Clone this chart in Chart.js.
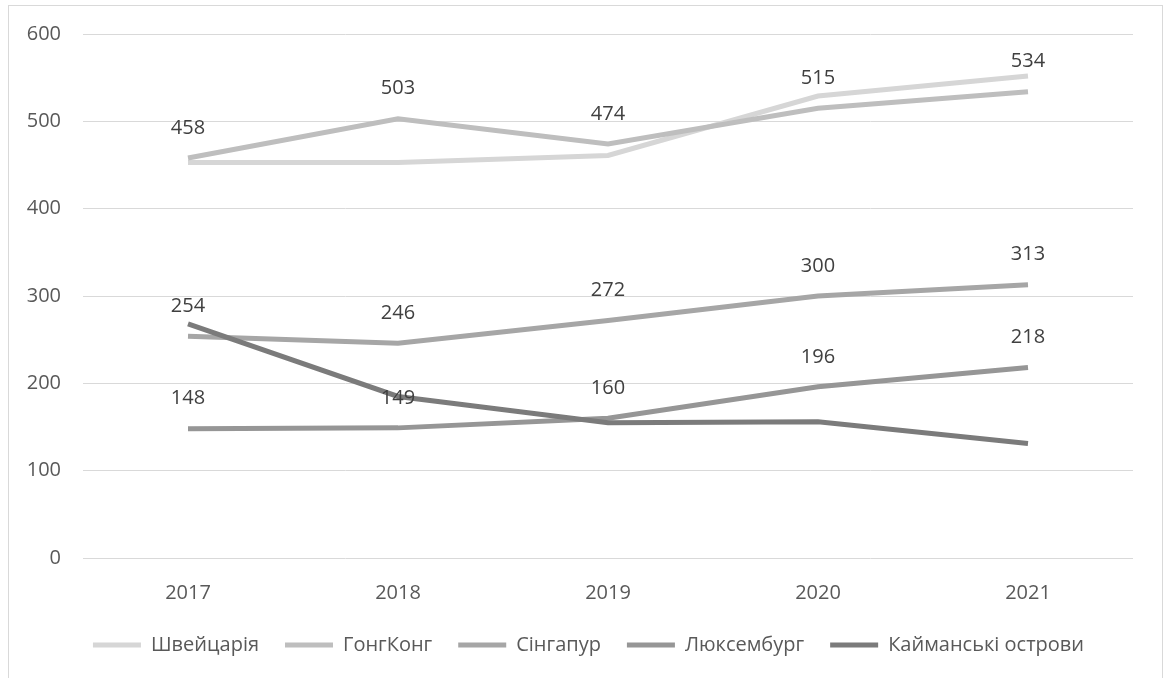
<!DOCTYPE html>
<html>
<head>
<meta charset="utf-8">
<script src="https://cdn.jsdelivr.net/npm/chart.js@4"></script>
<style>
  html, body { margin: 0; padding: 0; background: #fff; overflow: hidden; }
  #wrap { position: relative; width: 1168px; height: 678px; }
  #frame { position: absolute; left: 8px; top: 5px; width: 1153px; height: 700px;
           border: 1px solid #d9d9d9; pointer-events: none; }
  canvas { position: absolute; left: 0; top: 0; }
</style>
</head>
<body>
<div id="wrap">
  <canvas id="chart" width="1168" height="678"></canvas>
  <div id="frame"></div>
</div>
<script>
// values
const years = ['2017', '2018', '2019', '2020', '2021'];
const seriesNames = ['Швейцарія', 'ГонгКонг', 'Сінгапур', 'Люксембург', 'Кайманські острови'];
const switzerland = [453, 453, 461, 529, 552];
const hongKong = [458, 503, 474, 515, 534];
const singapore = [254, 246, 272, 300, 313];
const luxembourg = [148, 149, 160, 196, 218];
const cayman = [268, 185, 155, 156, 131];
const yTicks = [0, 100, 200, 300, 400, 500, 600];

const lineColors = ['#d6d6d6', '#bebebe', '#a6a6a6', '#969696', '#7b7b7b'];
const labelled = [false, true, true, true, false];
const FONT = "'Open Sans', 'Noto Sans', sans-serif";

const allValues = [switzerland, hongKong, singapore, luxembourg, cayman];

const datasets = allValues.map((vals, i) => ({
    label: seriesNames[i],
    data: vals,
    borderColor: lineColors[i],
    backgroundColor: lineColors[i],
    borderWidth: 5,
    borderCapStyle: 'butt',
    borderJoinStyle: 'miter',
    pointRadius: 0,
    tension: 0,
    fill: false,
    order: allValues.length - i,
    showValues: labelled[i]
}));

// value labels above points
const valueLabels = {
    id: 'valueLabels',
    afterDatasetsDraw(chart) {
        const ctx = chart.ctx;
        ctx.save();
        ctx.font = '20px ' + FONT;
        ctx.fillStyle = '#404040';
        ctx.textAlign = 'center';
        ctx.textBaseline = 'middle';
        chart.data.datasets.forEach((ds, i) => {
            if (!ds.showValues) return;
            const meta = chart.getDatasetMeta(i);
            meta.data.forEach((pt, j) => {
                ctx.fillText(String(ds.data[j]), pt.x, pt.y - 30);
            });
        });
        ctx.restore();
    }
};

// legend sits a bit right of the canvas centre in the original
const legendShift = {
    id: 'legendShift',
    afterLayout(chart) {
        chart.legend.left += 22;
        chart.legend.right += 22;
    }
};

new Chart(document.getElementById('chart').getContext('2d'), {
    type: 'line',
    data: { labels: years, datasets: datasets },
    options: {
        responsive: false,
        animation: false,
        layout: { padding: { left: 0, right: 35, top: 34, bottom: 13 } },
        plugins: {
            legend: {
                position: 'bottom',
                labels: {
                    boxWidth: 48,
                    boxHeight: 5,
                    padding: 26,
                    color: '#595959',
                    font: { family: FONT, size: 20 },
                    sort: (a, b) => a.datasetIndex - b.datasetIndex,
                    generateLabels(chart) {
                        const items = Chart.defaults.plugins.legend.labels.generateLabels(chart);
                        items.forEach(it => { it.lineWidth = 0; });
                        return items;
                    }
                }
            },
            tooltip: { enabled: false }
        },
        scales: {
            x: {
                offset: true,
                grid: { display: false, drawTicks: false },
                border: { display: false },
                ticks: { color: '#595959', font: { family: FONT, size: 20 }, padding: 23 },
                afterFit(scale) { scale.height = 51; }
            },
            y: {
                min: 0,
                max: 600,
                afterBuildTicks(scale) { scale.ticks = yTicks.map(v => ({ value: v })); },
                grid: { color: '#d9d9d9', lineWidth: 1, drawTicks: false },
                border: { display: false },
                ticks: { color: '#595959', font: { family: FONT, size: 20 }, padding: 22 },
                afterFit(scale) { scale.width = 83; }
            }
        }
    },
    plugins: [valueLabels, legendShift]
});
</script>
</body>
</html>
